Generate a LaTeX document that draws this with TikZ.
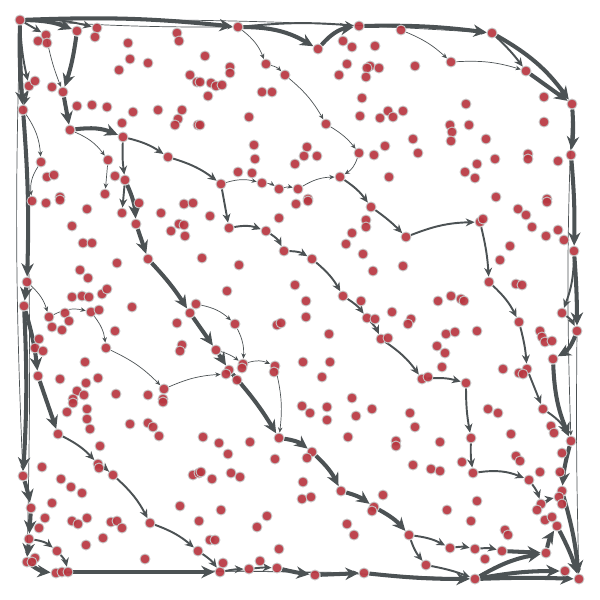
\documentclass[tikz,border=0pt]{standalone}
\usetikzlibrary{arrows.meta,backgrounds}

\definecolor{dotred}{RGB}{184,54,64}
\definecolor{flowgray}{RGB}{76,82,84}

\tikzstyle{dot} = [circle, fill=dotred, fill opacity=0.92, draw=black!22,
    line width=0.5pt, inner sep=0pt, minimum size=0.2cm]
\tikzstyle{flowthin} = [draw=flowgray, line width=0.4pt,
    -{Stealth[length=3pt,width=2.6pt]}]
\tikzstyle{flowmid} = [draw=flowgray, line width=1.1pt,
    -{Stealth[length=5pt,width=4.5pt]}]
\tikzstyle{flowthick} = [draw=flowgray, line width=2.3pt,
    -{Stealth[length=7.5pt,width=7pt]}]

\begin{document}
\begin{tikzpicture}[x=0.02cm, y=-0.02cm]
\useasboundingbox (0,0) rectangle (600,600);

% nodes on the flow
\foreach \n/\x/\y in {tl/20/20, ta/46/35, tb/77/31, tc/97/28, td/238/27, te/318/49,
    tf/359/26, tg/401/30, th/451/62, ti/492/33, tj/526/71, tr/572/104,
    ra/571/155, rb/574/251, rc/562/313, rd/577/331, re/553/359, rf/543/409,
    rg/571/441, rh/562/491, ri/557/526, br/579/579, ba/565/571, bb/546/553,
    bc/502/551, bd/475/549, be/450/548, bf/409/535, bg/426/565, bm/475/579,
    bh/364/573, bi/315/575, bj/277/568, bk/249/569, bx/220/572,
    lowa/56/573, lowb/62/572, lowc/68/572,
    la/27/562, lb/29/539, lc/57/551, ld/31/508, le/23/476, lf/38/376,
    lg/24/306, lh/27/282, li/32/201, lj/23/110, lk/29/86, ll/41/162,
    da/63/92, db/70/130, dc/123/137, dd/125/180, de/122/213, df/136/224,
    dg/148/259, dh/190/313, di/216/350, dj/229/370, dk/279/438, dl/312/452,
    dm/341/491, dn/374/507,
    ca/168/157, cb/221/184, cc/262/183, cd/279/189, ce/298/189, cf/340/177,
    cg/359/153, ch/326/124, ci/285/75, cj/266/64, ck/371/207, cl/406/237,
    cm/480/222, cn/489/282, co/519/322, cp/527/369,
    ea/229/228, eb/266/231, ec/284/251, ed/312/259, ee/343/296, ef/367/318,
    eg/381/339, eh/422/379, ei/466/383, ej/471/438, ek/473/473, el/529/480,
    em/541/504, en/559/497,
    ga/58/434, gb/98/464, gc/113/475, gd/150/523, ge/198/551,
    ha/49/317, hb/91/312, hc/106/348, hd/164/389, he/226/374, hf/196/304,
    hg/235/324, hh/243/364, hi/275/366, ka/108/160, kb/105/194}
  \node [dot] (\n) at (\x,\y) {};

% the other points
\foreach \x/\y [count=\i] in {38/41, 47/43, 95/37, 177/33, 179/41, 128/43, 130/59,
    148/63, 119/70, 190/75, 197/82, 35/81, 52/87, 77/106, 92/105, 107/107,
    133/112, 158/110, 182/110, 178/119, 175/125, 122/123, 47/177, 54/175,
    115/176, 60/197, 198/125,
    205/56, 230/67, 230/73, 200/82, 211/83, 216/86, 222/85, 208/96, 262/92,
    272/92, 343/41, 352/47, 375/46, 347/64, 339/75, 370/66, 367/68, 379/68,
    366/77, 362/98, 388/111, 380/118, 393/117, 360/116, 249/117, 200/125,
    254/145, 255/159, 238/172, 252/173, 307/147, 304/156, 317/156, 295/164,
    374/155, 385/146, 389/177, 308/199,
    415/66, 544/97, 466/104, 403/111, 450/125, 452/132, 451/141, 469/125,
    413/139, 418/153, 486/139, 544/122, 528/154, 528/159, 495/159, 558/161,
    477/164, 465/172, 475/178, 496/197, 547/199,
    210/216, 279/218, 296/204, 308/201, 202/258, 239/265, 227/291, 295/285,
    306/301, 306/317, 361/301, 375/319, 366/220, 366/227, 352/233, 346/244,
    363/254, 373/271, 392/312, 388/338, 329/334, 277/325, 281/323, 242/368,
    274/372, 237/380, 303/362, 330/362, 322/377, 352/398,
    46/203, 60/200, 87/209, 72/226, 83/243, 92/243, 139/203, 161/213,
    184/204, 193/203, 179/224, 184/225, 171/231, 185/236, 117/263, 80/270,
    88/278, 72/297, 82/296, 89/297, 102/294, 107/289, 65/313, 69/321,
    52/327, 62/330, 99/310, 132/307, 115/331, 39/339, 35/348, 43/351,
    177/323, 182/345, 180/351, 85/362, 60/379, 86/383, 98/378, 77/391,
    84/395, 116/394, 148/395, 163/399, 73/399,
    483/219, 518/209, 526/215, 547/202, 532/227, 546/236, 558/230, 564/240,
    510/246, 500/260, 516/284, 522/285, 403/266, 438/301, 451/296, 461/299,
    464/301, 411/319, 408/324, 446/334, 455/332, 477/331, 540/331, 542/337,
    545/342, 552/341, 437/346, 445/353, 442/367, 428/377, 503/369, 519/373,
    523/374,
    73/403, 87/409, 87/419, 90/429, 67/412, 130/424, 148/423, 153/427,
    159/436, 163/402, 100/446, 99/468, 42/467, 61/479, 71/487, 82/493,
    193/475, 199/473, 52/503, 45/518, 39/528, 72/521, 78/524, 87/518,
    111/522, 117/521, 122/528, 103/538, 86/545, 180/506, 35/558, 32/562,
    145/559, 199/521,
    307/458, 302/406, 310/413, 327/407, 327/420, 372/409, 356/416, 348/437,
    396/441, 396/446, 203/437, 219/443, 228/454, 250/442, 275/459, 201/472,
    212/479, 231/473, 240/477, 303/482, 302/499, 311/497, 383/495, 372/511,
    347/524, 354/535, 221/510, 267/516, 257/527, 210/540, 215/540, 279/549,
    260/561, 223/563,
    410/413, 415/427, 440/442, 413/465, 431/469, 440/471, 462/462, 488/409,
    498/413, 511/434, 516/456, 520/461, 551/426, 554/433, 562/453, 540/472,
    560/472, 562/504, 537/510, 545/520, 552/517, 477/501, 447/510, 471/521,
    505/530, 508/535, 485/559}
  \node [dot] (s\i) at (\x,\y) {};

\begin{scope}[on background layer]
% long faint bundles
\foreach \a/\b/\bd in {tl/ti/2, tl/td/-2, tl/le/-2, tl/la/2, lowa/bm/2,
    lowb/bh/1, rd/br/-1, tr/rg/-2}
  \draw [flowthin] (\a) to [bend left=\bd] (\b);
\foreach \a/\b/\bd in {td/cj/15, cj/ci/15, ci/ch/10, ch/cg/10, cg/cf/20,
    cb/cc/15, cc/cd/15, cd/ce/15, ce/cf/15, tg/th/10, th/tj/10,
    lh/ha/15, ha/hb/20, hb/hc/15, hc/hd/10, hd/he/10, hf/hg/15, hg/hh/15,
    di/hh/10, hh/hi/20, hi/dk/10, db/ka/15, ka/kb/0, lj/ll/15, ll/li/-20,
    ta/da/-5}
  \draw [flowthin] (\a) to [bend left=\bd] (\b);
\foreach \a/\b/\bd in {tl/tc/8, tl/ta/0, tl/lk/-5, td/tf/5, ti/tj/5,
    rb/rc/10, rc/rd/15, rf/rg/15, dc/ca/10, ca/cb/10, dc/dd/-5, dd/de/0,
    cb/ea/0, ea/eb/15, eb/ec/15, ec/ed/15, ed/ee/10, ee/ef/10, ef/eg/10,
    eg/eh/10, eh/ei/10, ei/ej/-5, ej/ek/-5, ek/el/15, el/em/10, em/en/10,
    cf/ck/10, ck/cl/5, cl/cm/10, cm/cn/5, cn/co/10, co/cp/5, cp/rf/0,
    bf/be/10, be/bd/10, bd/bc/10, bf/bg/-10, bg/bm/5,
    ga/gb/10, gb/gc/5, gc/gd/10, gd/ge/10, ge/bx/10,
    lb/lc/15, lc/lowc/15, bx/bk/5, bk/bj/5, lk/lj/0}
  \draw [flowmid] (\a) to [bend left=\bd] (\b);
\foreach \a/\b/\bd in {tl/tb/10, tl/td/4, td/te/15, te/tf/20, tf/ti/4,
    ti/tr/12, tj/tr/0, tr/ra/5, ra/rb/3, rb/rd/2, rd/re/20, re/rg/-10,
    rg/rh/-5, rh/br/5, ri/br/5, bm/bb/10, bm/ba/5, bm/br/2, bc/bb/0,
    bb/ri/10, tb/da/5, da/db/0, db/dc/15, dd/df/10, df/dg/0, dg/dh/5,
    dh/di/0, di/dj/0, dj/dk/5, dk/dl/15, dl/dm/10, dm/dn/10, dn/bf/10,
    tl/lj/-3, lj/lh/3, lh/lg/0, lg/lf/5, lg/le/3, le/ld/3, ld/lb/0,
    lb/la/0, la/lowa/-15, lowc/bx/0, bj/bi/-3, bi/bh/0, bh/bm/-3,
    lf/ga/0}
  \draw [flowthick] (\a) to [bend left=\bd] (\b);
\end{scope}
\end{tikzpicture}
\end{document}
